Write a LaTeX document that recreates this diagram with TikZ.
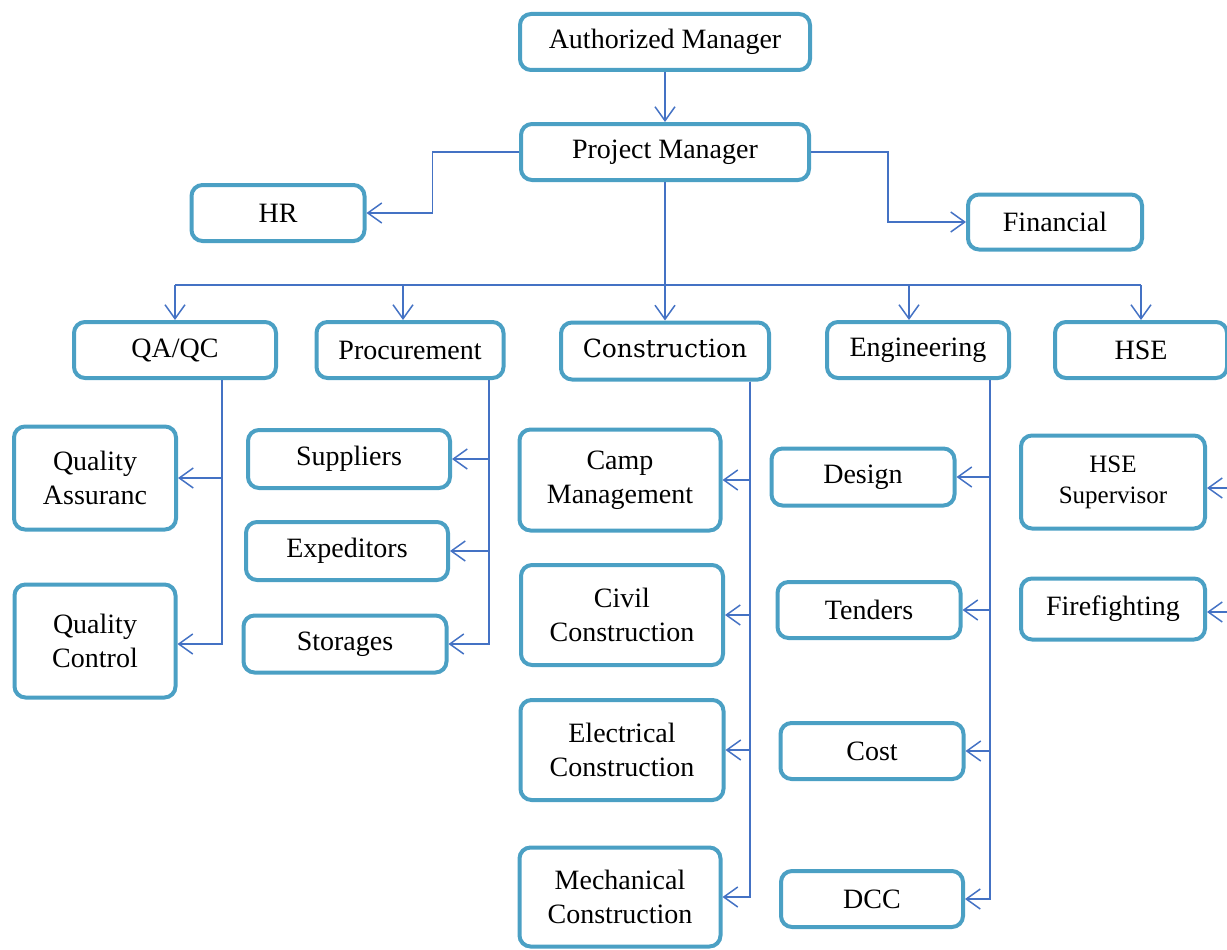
\documentclass[tikz,border=0pt]{standalone}
\usepackage{fontspec}
\setmainfont{Liberation Serif}
\newfontfamily\consfont{DejaVu Serif}
\usepackage{tikz}
\usetikzlibrary{positioning,arrows.meta}

\definecolor{boxline}{RGB}{75,160,196}
\definecolor{linkline}{RGB}{68,114,196}

\begin{document}
\begin{tikzpicture}[x=1pt,y=-1pt,
	every node/.style={draw=boxline,line width=4pt,rounded corners=11pt,align=center,
		inner sep=0pt,font=\fontsize{28}{34}\selectfont},
	link/.style={draw=linkline,line width=1.5pt,-{Straight Barb[length=14pt,width=20pt,line width=1.5pt]}},
	bar/.style={draw=linkline,line width=1.5pt}]

		\useasboundingbox (0,0) rectangle (1227,950);

		%top
		\node[minimum width=290pt,minimum height=56pt] (am) at (665,42) {Authorized Manager};
		\node[minimum width=288pt,minimum height=56pt] (pm) at (665,152) {Project Manager};
		\node[minimum width=173pt,minimum height=56pt] (hr) at (278,213) {HR};
		\node[minimum width=174pt,minimum height=55pt] (fin) at (1055,222) {Financial};

		%departments
		\node[minimum width=202pt,minimum height=56pt] (qa) at (175,350) {QA/QC};
		\node[minimum width=187pt,minimum height=56pt] (proc) at (410,350) {Procurement};
		\node[minimum width=208pt,minimum height=57pt,font=\consfont\fontsize{25}{30}\selectfont] (cons) at (665,351) {\raisebox{6pt}{Construction}};
		\node[minimum width=182pt,minimum height=56pt] (eng) at (918,350) {Engineering};
		\node[minimum width=172pt,minimum height=56pt] (hse) at (1141,350) {HSE};

		%QA/QC
		\node[minimum width=162pt,minimum height=103pt] (qas) at (95,478) {Quality\\Assuranc};
		\node[minimum width=161pt,minimum height=113pt] (qc) at (95,641) {Quality\\Control};

		%procurement
		\node[minimum width=202pt,minimum height=58pt] (sup) at (349,459) {Suppliers};
		\node[minimum width=202pt,minimum height=58pt] (exp) at (347,551) {Expeditors};
		\node[minimum width=203pt,minimum height=57pt] (sto) at (345,644) {Storages};

		%construction
		\node[minimum width=201pt,minimum height=101pt] (camp) at (620,480) {Camp\\Management};
		\node[minimum width=202pt,minimum height=100pt] (civil) at (622,615) {Civil\\Construction};
		\node[minimum width=203pt,minimum height=100pt] (elec) at (622,750) {Electrical\\Construction};
		\node[minimum width=201pt,minimum height=99pt] (mech) at (620,897) {Mechanical\\Construction};

		%engineering
		\node[minimum width=183pt,minimum height=57pt] (des) at (863,477) {Design};
		\node[minimum width=183pt,minimum height=56pt] (ten) at (869,610) {Tenders};
		\node[minimum width=183pt,minimum height=56pt] (cost) at (872,751) {Cost};
		\node[minimum width=182pt,minimum height=56pt] (dcc) at (872,899) {DCC};

		%HSE
		\node[minimum width=184pt,minimum height=93pt,font=\fontsize{25}{31}\selectfont] (hsesup) at (1113,482) {HSE\\Supervisor};
		\node[minimum width=184pt,minimum height=61pt] (fire) at (1113,609) {Firefighting};

		%edges
		\coordinate (bus) at (665,285);
		\coordinate (pa) at ([xshift=-7pt]proc.north);
		\coordinate (ea) at ([xshift=-9pt]eng.north);
		\coordinate (hs1) at (1240,488);
		\coordinate (hs2) at (1240,612);

		\draw[link] (am) -- (pm);
		\draw[link] (pm.west) -| ([xshift=66pt]hr.east) -- (hr.east);
		\draw[link] (pm.east) -| ([xshift=-78pt]fin.west) -- (fin.west);
		\draw[bar] (pm.south) -- (bus);
		\draw[bar] (bus -| qa.north) -- (bus -| hse.north);
		\draw[link] (bus -| qa.north) -- (qa.north);
		\draw[link] (bus -| pa) -- (pa);
		\draw[link] (bus) -- (cons.north);
		\draw[link] (bus -| ea) -- (ea);
		\draw[link] (bus -| hse.north) -- (hse.north);

		\draw[link] ([xshift=47pt]qa.south) |- (qas.east);
		\draw[link] ([xshift=47pt]qa.south) |- ([yshift=-3pt]qc.east);

		\foreach \n in {sup,exp,sto}
			\draw[link] ([xshift=79pt]proc.south) |- (\n.east);
		\foreach \n in {camp,civil,elec,mech}
			\draw[link] ([xshift=85pt]cons.south) |- (\n.east);
		\foreach \n in {des,ten,cost,dcc}
			\draw[link] ([xshift=72pt]eng.south) |- (\n.east);

		\draw[link] (hs1) -- ([yshift=-6pt]hsesup.east);
		\draw[link] (hs2) -- (fire.east |- hs2);

\end{tikzpicture}
\end{document}
